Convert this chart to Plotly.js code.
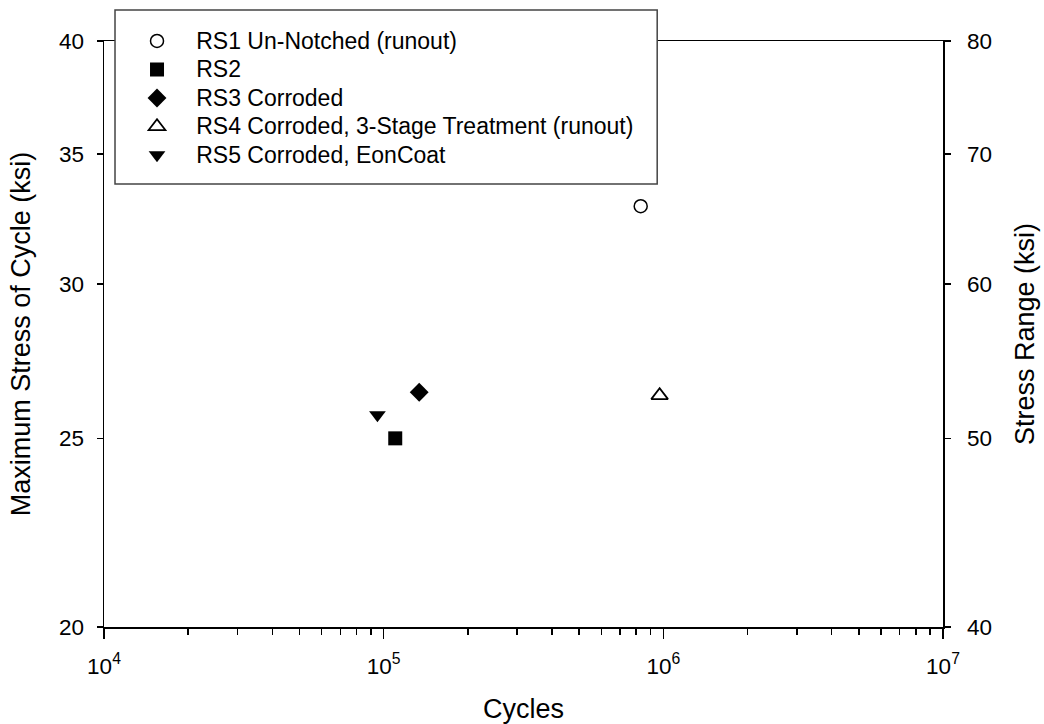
<!DOCTYPE html>
<html><head><meta charset="utf-8">
<script src="https://cdn.plot.ly/plotly-3.0.1.min.js"></script>
<style>html,body{margin:0;padding:0;background:#fff}#chart{width:1044px;height:724px}</style>
</head><body><div id="chart"></div>
<script>
// ---- data ----
const seriesNames = ["RS1 Un-Notched (runout)", "RS2", "RS3 Corroded", "RS4 Corroded, 3-Stage Treatment (runout)", "RS5 Corroded, EonCoat"];
const cycles = [830000, 110000, 134000, 970000, 95000];
const maxStress = [32.9, 25.0, 26.4, 26.3, 25.7];
const xTickVals = [1e4, 1e5, 1e6, 1e7];
const xTickText = ["10<sup>4</sup>", "10<sup>5</sup>", "10<sup>6</sup>", "10<sup>7</sup>"];
const leftTickVals = [20, 25, 30, 35, 40];
const rightTickVals = [40, 50, 60, 70, 80];

// ---- styles ----
const symbols = ["circle", "square", "diamond", "triangle-up", "triangle-down"];
const fills = ["#ffffff", "#000000", "#000000", "#ffffff", "#000000"];
const sizes = [13, 14, 14.5, 14.5, 14.5];
const lineW = [1.5, 0, 0, 1.8, 0];
const FONT = "Liberation Sans, Arial, sans-serif";

const minorVals = [];
for (let d = 4; d < 7; d++) for (let m = 2; m <= 9; m++) minorVals.push(m * Math.pow(10, d));

const traces = seriesNames.map((n, i) => ({
  type: "scatter", mode: "markers",
  x: [cycles[i]], y: [maxStress[i]],
  name: '<span style="font-size:23px">\u00a0\u00a0\u00a0' + n + '</span>',
  marker: { symbol: symbols[i], size: sizes[i], color: fills[i], line: { color: "#000", width: lineW[i] } },
  xaxis: "x", yaxis: "y", hoverinfo: "x+y"
}));
traces.push({ type: "scatter", mode: "markers", x: [], y: [], xaxis: "x", yaxis: "y2", showlegend: false, hoverinfo: "skip" });

const layout = {
  width: 1044, height: 724,
  margin: { l: 104, r: 101.3, t: 41, b: 97, pad: 0 },
  paper_bgcolor: "#fff", plot_bgcolor: "#fff",
  font: { family: FONT, color: "#000", size: 22 },
  showlegend: true,
  legend: {
    x: (137 - 104) / 838.7, y: (627 - 21.75) / 586, xanchor: "left", yanchor: "top",
    bgcolor: "rgba(0,0,0,0)", borderwidth: 0, traceorder: "normal",
    font: { family: FONT, size: 19.6, color: "#000" }
  },
  xaxis: {
    type: "log", range: [4, 7], tickvals: xTickVals, ticktext: xTickText,
    showgrid: false, zeroline: false, showline: true, linecolor: "#000", linewidth: 1.5, mirror: true,
    ticks: "outside", ticklen: 10, tickwidth: 1.5, tickcolor: "#000",
    tickfont: { family: FONT, size: 22.5 }, ticklabelstandoff: 8,
    minor: { tickvals: minorVals, ticks: "outside", ticklen: 6, tickwidth: 1.5, tickcolor: "#000", showgrid: false },
    title: { text: "Cycles", font: { family: FONT, size: 27 }, standoff: 28 }
  },
  yaxis: {
    type: "log", range: [Math.log10(20), Math.log10(40)], tickvals: leftTickVals, ticktext: leftTickVals.map(String),
    showgrid: false, zeroline: false, showline: true, linecolor: "#000", linewidth: 1.5,
    ticks: "outside", ticklen: 6, tickwidth: 1.5, tickcolor: "#000",
    tickfont: { family: FONT, size: 22.5 }, ticklabelstandoff: 8,
    title: { text: "Maximum Stress of Cycle (ksi)", font: { family: FONT, size: 27 }, standoff: 20 }
  },
  yaxis2: {
    type: "log", overlaying: "y", side: "right", anchor: "x",
    range: [Math.log10(40), Math.log10(80)], tickvals: rightTickVals, ticktext: rightTickVals.map(String),
    showgrid: false, zeroline: false, showline: true, linecolor: "#000", linewidth: 1.5,
    ticks: "outside", ticklen: 6, tickwidth: 1.5, tickcolor: "#000",
    tickfont: { family: FONT, size: 22.5 }, ticklabelstandoff: 12,
    title: { text: "Stress Range (ksi)", font: { family: FONT, size: 27 }, standoff: 24 }
  },
  shapes: [{
    type: "rect", xref: "paper", yref: "paper", layer: "above",
    x0: (115 - 104) / 838.7, x1: (657 - 104) / 838.7, y0: (627 - 184) / 586, y1: (627 - 10) / 586,
    fillcolor: "#fff", line: { color: "#444", width: 1.5 }
  }]
};

Plotly.newPlot("chart", traces, layout, { displayModeBar: false, staticPlot: true });
</script>
</body></html>
